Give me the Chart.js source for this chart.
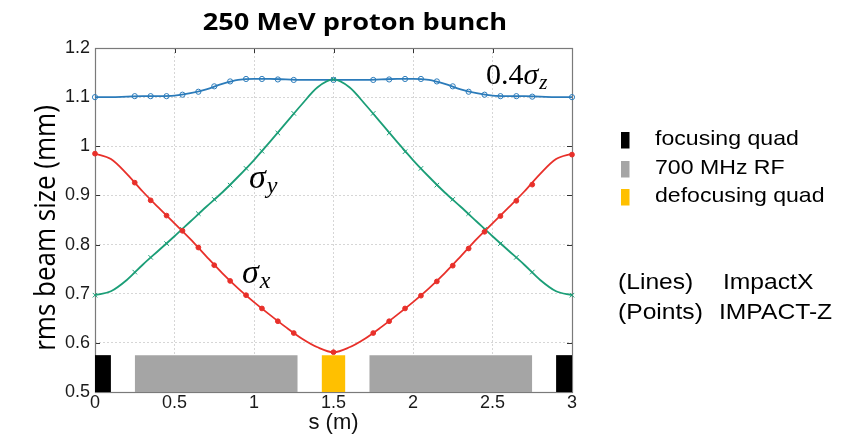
<!DOCTYPE html>
<html><head><meta charset="utf-8">
<script src="https://cdn.jsdelivr.net/npm/chart.js@4.4.1/dist/chart.umd.min.js"></script>
<style>html,body{margin:0;padding:0;background:#fff}canvas{display:block}</style>
</head><body>
<canvas id="c" width="864" height="436"></canvas>
<script>
// ---- ImpactX (lines) ----
const lineS = [0,0.1,0.2,0.3,0.4,0.5,0.6,0.7,0.8,0.9,1.0,1.1,1.2,1.3,1.4,1.5,1.6,1.7,1.8,1.9,2.0,2.1,2.2,2.3,2.4,2.5,2.6,2.7,2.8,2.9,3.0];
const lineSigmaX = [0.985,0.974,0.944,0.908,0.875,0.843,0.811,0.776,0.742,0.711,0.683,0.657,0.632,0.609,0.591,0.581,0.591,0.609,0.632,0.657,0.683,0.711,0.742,0.776,0.811,0.843,0.875,0.908,0.944,0.974,0.985];
const lineSigmaY = [0.697,0.705,0.728,0.759,0.788,0.817,0.847,0.877,0.906,0.938,0.972,1.009,1.047,1.085,1.120,1.136,1.120,1.085,1.047,1.009,0.972,0.938,0.906,0.877,0.847,0.817,0.788,0.759,0.728,0.705,0.697];
const lineSigmaZ = [1.100,1.100,1.101,1.102,1.102,1.103,1.108,1.116,1.127,1.135,1.137,1.137,1.136,1.135,1.135,1.135,1.135,1.135,1.136,1.137,1.137,1.135,1.127,1.116,1.108,1.103,1.102,1.102,1.101,1.100,1.100];
// ---- IMPACT-Z (points) ----
const pointS = [0,0.25,0.35,0.45,0.55,0.65,0.75,0.85,0.95,1.05,1.15,1.25,1.5,1.75,1.85,1.95,2.05,2.15,2.25,2.35,2.45,2.55,2.65,2.75,3.0];
const pointSigmaX = [0.985,0.926,0.890,0.859,0.828,0.794,0.758,0.726,0.697,0.670,0.644,0.620,0.581,0.620,0.644,0.670,0.696,0.725,0.757,0.792,0.826,0.858,0.889,0.922,0.983];
const pointSigmaY = [0.697,0.744,0.774,0.802,0.831,0.863,0.892,0.921,0.955,0.990,1.027,1.067,1.136,1.067,1.027,0.989,0.955,0.921,0.892,0.863,0.831,0.802,0.774,0.744,0.697];
const pointSigmaZ = [1.100,1.102,1.102,1.102,1.105,1.111,1.122,1.132,1.137,1.137,1.136,1.135,1.135,1.135,1.136,1.137,1.137,1.132,1.122,1.111,1.105,1.102,1.102,1.101,1.100];
// ---- lattice elements ----
const elemStart = [0,0.25,1.425,1.725,2.9];
const elemEnd   = [0.1,1.275,1.575,2.75,3.0];
const elemKind  = [0,1,2,1,0];
const elemTop = 0.575;
const legendLabels = ['focusing quad','700 MHz RF','defocusing quad'];
const codeLabels = [['(Lines)','ImpactX'],['(Points)','IMPACT-Z']];
// ---- axes ----
const xTicks = [0,0.5,1,1.5,2,2.5,3];
const yTicks = [0.5,0.6,0.7,0.8,0.9,1.0,1.1,1.2];
const titleText = '250 MeV proton bunch';
const yTitle = 'rms beam size (mm)';
const xTitle = 's (m)';

const RED='#e8302a', GREEN='#1b9e77', BLUE='#2b7bba';
const elemColors = ['#000000','#a5a5a5','#ffc000'];

const pts = (xs, ys) => xs.map((x,i)=>({x:x,y:ys[i]}));
const lineDs = (ys,c) => ({data:pts(lineS,ys),borderColor:c,borderWidth:1.8,pointRadius:0,fill:false,cubicInterpolationMode:'monotone'});
const ptDs = (ys,c,style,r,bg) => ({data:pts(pointS,ys),showLine:false,pointStyle:style,pointRadius:r,pointBorderColor:c,pointBackgroundColor:bg,pointBorderWidth:1,borderColor:c,clip:false});

const datasets = [
  ptDs(pointSigmaX,RED,'circle',2.4,RED),
  ptDs(pointSigmaY,GREEN,'crossRot',3.2,GREEN),
  ptDs(pointSigmaZ,BLUE,'circle',2.6,'rgba(255,255,255,0)'),
  lineDs(lineSigmaX,RED),
  lineDs(lineSigmaY,GREEN),
  lineDs(lineSigmaZ,BLUE)
];
elemStart.forEach((s,i)=>{
  datasets.push({data:[{x:s,y:elemTop},{x:elemEnd[i],y:elemTop}],borderColor:'rgba(0,0,0,0)',borderWidth:0,
    backgroundColor:elemColors[elemKind[i]],fill:{value:0.5},pointRadius:0,tension:0});
});

function stretchText(ctx, txt, x, y, font, align, sx, base){
  ctx.save();
  ctx.font = font; ctx.fillStyle = '#000';
  ctx.textAlign = align; ctx.textBaseline = base || 'alphabetic';
  ctx.translate(x,y); ctx.scale(sx,1);
  ctx.fillText(txt,0,0);
  ctx.restore();
}
function mathLabel(ctx, x, y, pre, sym, sub, size){
  ctx.save(); ctx.fillStyle='#000'; ctx.textBaseline='alphabetic'; ctx.textAlign='left';
  let cx = x;
  if (pre){ ctx.font = size+'px "Liberation Serif"'; ctx.fillText(pre,cx,y); cx += ctx.measureText(pre).width; }
  ctx.font = 'italic '+size+'px "Liberation Serif"'; ctx.fillText(sym,cx,y); cx += ctx.measureText(sym).width;
  ctx.font = 'italic '+Math.round(size*0.7)+'px "Liberation Serif"'; ctx.fillText(sub,cx+1,y+Math.round(size*0.15));
  ctx.restore();
}

const framePlugin = {
  id:'frame',
  beforeDatasetsDraw(chart){
    const {ctx, chartArea:a, scales} = chart;
    ctx.save();
    ctx.strokeStyle='#333'; ctx.lineWidth=1;
    ctx.beginPath();
    xTicks.forEach(v=>{const p=Math.round(scales.x.getPixelForValue(v))+0.5;
      ctx.moveTo(p,a.bottom); ctx.lineTo(p,a.bottom-5); ctx.moveTo(p,a.top); ctx.lineTo(p,a.top+5);});
    yTicks.forEach(v=>{const p=Math.round(scales.y.getPixelForValue(v))+0.5;
      ctx.moveTo(a.left,p); ctx.lineTo(a.left+5,p); ctx.moveTo(a.right,p); ctx.lineTo(a.right-5,p);});
    ctx.stroke();
    ctx.strokeStyle='#7a7a7a'; ctx.lineWidth=1.2;
    ctx.strokeRect(Math.round(a.left)+0.5, Math.round(a.top)+0.5, Math.round(a.right-a.left), Math.round(a.bottom-a.top));
    ctx.restore();
  },
  afterDraw(chart){
    const {ctx, chartArea:a} = chart;
    // title
    stretchText(ctx, titleText, 355, 29.5, 'bold 23px "Open Sans"', 'center', 1.18);
    // y title
    ctx.save();
    ctx.translate(46, 228); ctx.rotate(-Math.PI/2); ctx.scale(1,1.15);
    ctx.font='26px "Open Sans"'; ctx.fillStyle='#000'; ctx.textAlign='center'; ctx.textBaseline='middle';
    ctx.fillText(yTitle,0,0);
    ctx.restore();
    // legend for lattice elements
    const rowBase=[145,174,202];
    legendLabels.forEach((t,i)=>{
      ctx.fillStyle=elemColors[i];
      ctx.fillRect(621, rowBase[i]-13, 8.5, 16.5);
      stretchText(ctx, t, 655, rowBase[i], '21px "Liberation Sans"', 'left', 1.1);
    });
    // code labels
    const codeBase=[289,319], codeX2=[723,719];
    codeLabels.forEach((p,i)=>{
      stretchText(ctx, p[0], 618, codeBase[i], '22px "Liberation Sans"', 'left', 1.12);
      stretchText(ctx, p[1], codeX2[i], codeBase[i], '22px "Liberation Sans"', 'left', 1.12);
    });
    // curve annotations
    mathLabel(ctx, 486, 84, '0.4', 'σ', 'z', 30);
    mathLabel(ctx, 249, 188, '', 'σ', 'y', 34);
    mathLabel(ctx, 242, 283, '', 'σ', 'x', 34);
  }
};

const fmt = v => String(Math.round(v*10)/10);

new Chart(document.getElementById('c'), {
  type:'line',
  data:{datasets:datasets},
  options:{
    responsive:false, animation:false, devicePixelRatio:1, events:[],
    layout:{padding:{left:0,right:292,top:48,bottom:0}},
    plugins:{legend:{display:false},tooltip:{enabled:false},title:{display:false}},
    scales:{
      x:{type:'linear',min:0,max:3,
        afterFit:s=>{s.height=44;},
        afterBuildTicks:s=>{s.ticks=xTicks.map(v=>({value:v}));},
        ticks:{callback:fmt,padding:0,font:{family:'"Liberation Sans"',size:18},color:'#1a1a1a',maxRotation:0,autoSkip:false},
        grid:{color:'#d6d6d6',drawTicks:false,lineWidth:1},
        border:{display:false,dash:[2,2]},
        title:{display:true,text:xTitle,font:{family:'"Liberation Sans"',size:22},color:'#111',padding:{top:0,bottom:0}}
      },
      y:{type:'linear',min:0.5,max:1.2,
        afterFit:s=>{s.width=95;},
        afterBuildTicks:s=>{s.ticks=yTicks.map(v=>({value:v}));},
        ticks:{callback:fmt,padding:5,font:{family:'"Liberation Sans"',size:18},color:'#1a1a1a',autoSkip:false},
        grid:{color:'#d6d6d6',drawTicks:false,lineWidth:1},
        border:{display:false,dash:[2,2]}
      }
    }
  },
  plugins:[framePlugin]
});
</script>
</body></html>
